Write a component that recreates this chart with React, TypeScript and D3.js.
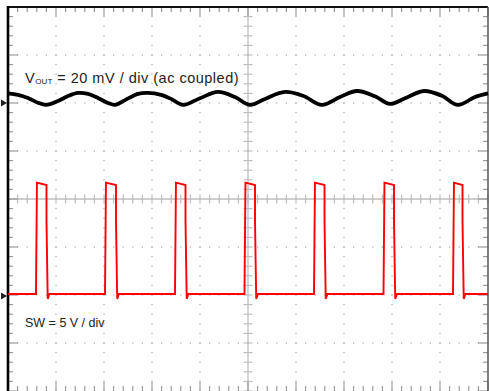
import React from 'react';
import * as d3 from 'd3';

// ---- data (time in divisions, 10 div across) ----
const voutTime = [0, 0.208, 0.417, 0.625, 0.792, 1.042, 1.25, 1.458, 1.667, 1.875, 2.083, 2.229, 2.438, 2.708, 2.917, 3.188, 3.417, 3.646, 4.0, 4.375, 4.729, 5.042, 5.354, 5.771, 6.146, 6.542, 6.917, 7.271, 7.646, 7.958, 8.271, 8.667, 9.042, 9.375, 9.729, 10];
const voutMv = [4.0, 3.4, 2.1, 0.1, -0.8, 0.8, 2.9, 4.2, 3.8, 2.1, 0.0, -0.8, 1.2, 3.8, 4.2, 3.4, 1.5, -0.8, 2.0, 4.6, 2.5, -0.8, 1.7, 4.6, 3.0, -0.8, 2.5, 5.0, 2.8, -0.4, 2.0, 5.0, 3.0, -0.8, 2.5, 4.0];

const swRise = [0.583, 2.021, 3.479, 4.927, 6.375, 7.823, 9.271];
const swFall = [0.802, 2.25, 3.698, 5.146, 6.594, 8.042, 9.469];
const swLevels = { low: 0.2, highStart: 11.8, highEnd: 11.55, knee: 7.8, undershoot: -0.3 };

const voutRefDiv = 2.0;
const voutMvPerDiv = 20;
const swRefDiv = -2.02;
const swVPerDiv = 5;

const labelVout = { main: 'V', sub: 'OUT', rest: '= 20 mV / div (ac coupled)' };
const labelSw = 'SW = 5 V / div';

const W = 489;
const H = 391;

export default function App() {
  const x = d3.scaleLinear().domain([0, 10]).range([8, 488]);
  const y = d3.scaleLinear().domain([-4, 4]).range([391, 7]);

  const voutPts: [number, number][] = voutTime.map((t, i) => [t, voutRefDiv + voutMv[i] / voutMvPerDiv]);
  const voutLine = d3
    .line<[number, number]>()
    .x((d) => x(d[0]))
    .y((d) => y(d[1]))
    .curve(d3.curveCatmullRom.alpha(0.5));

  const swPts: [number, number][] = [[0, swLevels.low]];
  swRise.forEach((r, i) => {
    const f = swFall[i];
    swPts.push([r, swLevels.low]);
    swPts.push([r + 0.02, swLevels.highStart]);
    swPts.push([f, swLevels.highEnd]);
    swPts.push([f, swLevels.knee]);
    swPts.push([f + 0.025, swLevels.undershoot]);
    swPts.push([f + 0.06, swLevels.low]);
  });
  swPts.push([10, swLevels.low]);
  const swLine = d3
    .line<[number, number]>()
    .x((d) => x(d[0]))
    .y((d) => y(swRefDiv + d[1] / swVPerDiv));

  const minor = d3.range(0, 50.5, 1).map((k) => k * 0.2);
  const minorY = d3.range(0, 40.5, 1).map((k) => -4 + k * 0.2);
  const majorX = d3.range(1, 10);
  const majorY = d3.range(-3, 4);

  const dots: [number, number][] = [];
  majorX.forEach((mx) => {
    if (mx === 5) return;
    minorY.forEach((my) => dots.push([x(mx), y(my)]));
  });
  majorY.forEach((my) => {
    if (my === 0) return;
    minor.forEach((mx) => dots.push([x(mx), y(my)]));
  });

  const isMajor = (v: number) => Math.abs(v - Math.round(v)) < 1e-6;
  const tickCol = '#9a9a9a';
  const font = 'Liberation Sans, Arial, sans-serif';

  return (
    <svg width={W} height={H} style={{ position: 'absolute', left: 0, top: 0, background: '#fff' }}>
      <rect x={0} y={0} width={W} height={H} fill="#fff" />
      {dots.map((d, i) => (
        <rect key={'d' + i} x={d[0] - 0.6} y={d[1] - 0.6} width={1.2} height={1.2} fill="#a8a8a8" />
      ))}
      <line x1={x(0)} x2={x(10)} y1={y(0)} y2={y(0)} stroke="#bdbdbd" strokeWidth={1.3} />
      <line x1={x(5)} x2={x(5)} y1={y(-4)} y2={y(4)} stroke="#bdbdbd" strokeWidth={1.3} />
      {minor.map((v, i) => (
        <line key={'cx' + i} x1={x(v)} x2={x(v)} y1={y(0) - 4.5} y2={y(0) + 4.5} stroke="#bdbdbd" strokeWidth={1.2} />
      ))}
      {minorY.map((v, i) => (
        <line key={'cy' + i} x1={x(5) - 4.5} x2={x(5) + 4.5} y1={y(v)} y2={y(v)} stroke="#bdbdbd" strokeWidth={1.2} />
      ))}
      {minor.map((v, i) => {
        const len = isMajor(v) ? 9 : 5;
        return (
          <g key={'tx' + i}>
            <line x1={x(v)} x2={x(v)} y1={y(4)} y2={y(4) + len} stroke={tickCol} strokeWidth={1.2} />
            <line x1={x(v)} x2={x(v)} y1={y(-4)} y2={y(-4) - len} stroke={tickCol} strokeWidth={1.2} />
          </g>
        );
      })}
      {minorY.map((v, i) => {
        const len = isMajor(v) ? 10 : 5;
        return (
          <g key={'ty' + i}>
            <line x1={x(0)} x2={x(0) + len} y1={y(v)} y2={y(v)} stroke={tickCol} strokeWidth={1.2} />
            <line x1={x(10)} x2={x(10) - len} y1={y(v)} y2={y(v)} stroke={tickCol} strokeWidth={1.2} />
          </g>
        );
      })}
      <line x1={x(0)} x2={x(10)} y1={y(4)} y2={y(4)} stroke="#111" strokeWidth={2} />
      <line x1={x(10)} x2={x(10)} y1={y(4)} y2={y(-4)} stroke="#555" strokeWidth={1.5} />
      <line x1={x(0)} x2={x(0)} y1={y(4) - 1} y2={y(-4)} stroke="#000" strokeWidth={2.6} />
      <path d={swLine(swPts) || ''} fill="none" stroke="#ff0000" strokeWidth={1.9} strokeLinejoin="miter" />
      <path d={voutLine(voutPts) || ''} fill="none" stroke="#000" strokeWidth={3.8} strokeLinejoin="round" />
      <path d={`M1,${y(voutRefDiv) - 3.5} L7,${y(voutRefDiv)} L1,${y(voutRefDiv) + 3.5} Z`} fill="#222" />
      <path d={`M1,${y(swRefDiv) - 3.5} L7,${y(swRefDiv)} L1,${y(swRefDiv) + 3.5} Z`} fill="#222" />
      <text x={25} y={83} fontFamily={font} fontSize={14.5} letterSpacing={0.5} fill="#222">
        {labelVout.main}
        <tspan fontSize={8} letterSpacing={0.2} dy={1}>{labelVout.sub}</tspan>
        <tspan dy={-1}> {labelVout.rest}</tspan>
      </text>
      <text x={25} y={327} fontFamily={font} fontSize={12.5} fill="#222">
        {labelSw}
      </text>
    </svg>
  );
}
